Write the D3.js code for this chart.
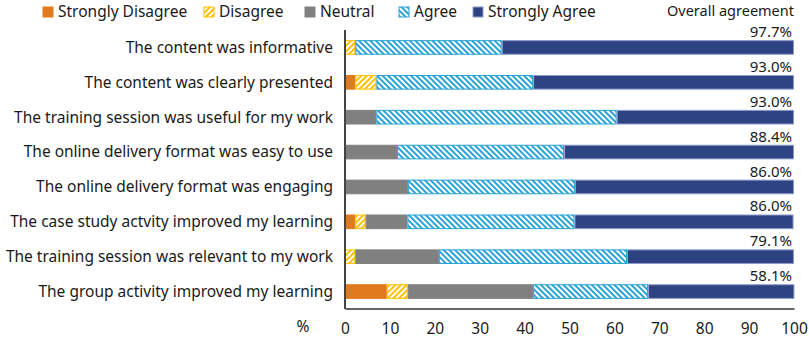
<!DOCTYPE html>
<html>
<head>
<meta charset="utf-8">
<script src="https://cdn.jsdelivr.net/npm/d3@7"></script>
<style>
  body { margin: 0; background: #fff; }
  text { font-family: "Noto Sans", sans-serif; fill: #1a1a1a; }
</style>
</head>
<body>
<div id="chart"></div>
<script>
// survey statements, top to bottom
const statements = [
    "The content was informative",
    "The content was clearly presented",
    "The training session was useful for my work",
    "The online delivery format was easy to use",
    "The online delivery format was engaging",
    "The case study actvity improved my learning",
    "The training session was relevant to my work",
    "The group activity improved my learning"
];
const categories = ["Strongly Disagree", "Disagree", "Neutral", "Agree", "Strongly Agree"];

// percentages per category (one value per statement)
const stronglyDisagree = [0, 2.3, 0, 0, 0, 2.3, 0, 9.3];
const disagree         = [2.3, 4.7, 0, 0, 0, 2.3, 2.3, 4.7];
const neutral          = [0, 0, 7.0, 11.6, 14.0, 9.3, 18.6, 27.9];
const agree            = [32.6, 34.9, 53.5, 37.2, 37.2, 37.2, 41.9, 25.6];
const stronglyAgree    = [65.1, 58.1, 39.5, 51.2, 48.8, 48.8, 37.2, 32.6];
const overall          = ["97.7%", "93.0%", "93.0%", "88.4%", "86.0%", "86.0%", "79.1%", "58.1%"];
const xTicks = [0, 10, 20, 30, 40, 50, 60, 70, 80, 90, 100];

const width = 809, height = 342;
const margin = { left: 345, right: 15, top: 30, bottom: 33 };

const svg = d3.select("#chart").append("svg")
    .attr("width", width)
    .attr("height", height);

const defs = svg.append("defs");
function hatch(id, color, angle) {
    const p = defs.append("pattern")
        .attr("id", id)
        .attr("patternUnits", "userSpaceOnUse")
        .attr("width", 4).attr("height", 4)
        .attr("patternTransform", `rotate(${angle})`);
    p.append("rect").attr("width", 4).attr("height", 4).attr("fill", "#fff");
    p.append("rect").attr("width", 2).attr("height", 4).attr("fill", color);
}
hatch("hatchD", "#ffc000", 45);
hatch("hatchA", "#2aa3d6", -45);

const fills = ["#e07a1f", "url(#hatchD)", "#808080", "url(#hatchA)", "#2e4482"];
const strokes = ["#e07a1f", "#ffc000", "#808080", "#2aa3d6", "#8d9ccc"];

const rows = statements.map((s, i) => {
    const vals = [stronglyDisagree[i], disagree[i], neutral[i], agree[i], stronglyAgree[i]];
    const r = { statement: s };
    categories.forEach((c, j) => r[c] = vals[j]);
    return r;
});
const stacked = d3.stack().keys(categories)(rows);

const x = d3.scaleLinear().domain([0, 100]).range([margin.left, width - margin.right]);
const y = d3.scaleBand().domain(statements).range([margin.top, height - margin.bottom]).paddingInner(0.58).paddingOuter(0.29);

svg.append("g").selectAll("g")
    .data(stacked)
    .join("g")
    .attr("fill", (d, i) => fills[i])
    .attr("stroke", (d, i) => strokes[i])
    .attr("stroke-width", 1)
    .selectAll("rect")
    .data(d => d.filter(p => p[1] - p[0] > 0))
    .join("rect")
    .attr("x", d => x(d[0]) + 0.5)
    .attr("y", d => y(d.data.statement) + 0.5)
    .attr("width", d => Math.max(0, x(d[1]) - x(d[0]) - 1))
    .attr("height", y.bandwidth() - 1);

// overall agreement labels
svg.append("g").selectAll("text")
    .data(statements)
    .join("text")
    .attr("x", x(100) - 2)
    .attr("y", d => y(d) - 3)
    .attr("text-anchor", "end")
    .attr("font-size", 15)
    .text((d, i) => overall[i]);

// statement labels
svg.append("g").selectAll("text")
    .data(statements)
    .join("text")
    .attr("x", margin.left - 12)
    .attr("y", d => y(d) + y.bandwidth() / 2)
    .attr("dy", "0.35em")
    .attr("text-anchor", "end")
    .attr("font-size", 15.5)
    .text(d => d);

// axes
const xAxis = svg.append("g")
    .attr("transform", `translate(0,${height - margin.bottom - 0.5})`)
    .call(d3.axisBottom(x).tickValues(xTicks).tickSize(0).tickPadding(14));
xAxis.select(".domain").attr("stroke", "#333").attr("stroke-width", 1.5);
xAxis.selectAll("text").attr("font-size", 15.5).attr("font-family", "Noto Sans").attr("fill", "#1a1a1a");

svg.append("line")
    .attr("x1", x(0)).attr("x2", x(0))
    .attr("y1", margin.top).attr("y2", height - margin.bottom)
    .attr("stroke", "#444").attr("stroke-width", 2);

svg.append("text")
    .attr("x", 303).attr("y", height - margin.bottom + 23)
    .attr("text-anchor", "middle")
    .attr("font-size", 15.5)
    .text("%");

// legend
const legendX = [43, 204, 305, 399, 473];
const legend = svg.append("g").selectAll("g")
    .data(categories)
    .join("g")
    .attr("transform", (d, i) => `translate(${legendX[i]},6)`);
legend.append("rect")
    .attr("width", 10).attr("height", 10).attr("y", 1)
    .attr("fill", (d, i) => fills[i])
    .attr("stroke", (d, i) => strokes[i]);
legend.append("text")
    .attr("x", 15).attr("y", 6)
    .attr("dy", "0.35em")
    .attr("font-size", 15.5)
    .text(d => d);

svg.append("text")
    .attr("x", x(100)).attr("y", 16)
    .attr("text-anchor", "end")
    .attr("font-size", 14.5)
    .text("Overall agreement");
</script>
</body>
</html>
